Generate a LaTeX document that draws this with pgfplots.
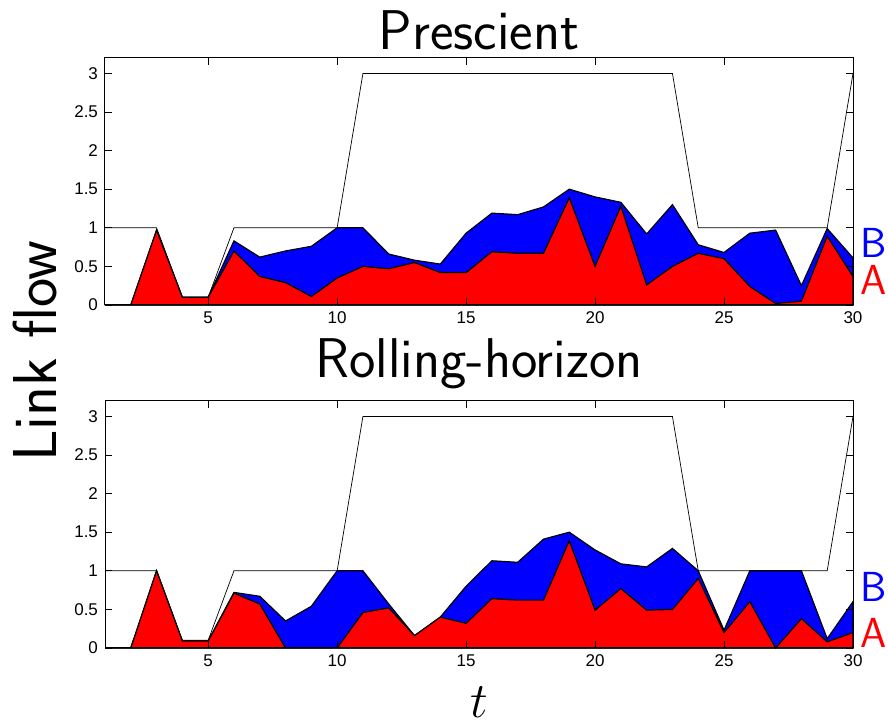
\documentclass[border=0pt]{standalone}
\usepackage{fontspec}
\setmainfont{Liberation Sans}
\usepackage{pgfplots}
\usepackage{pgfplotstable}
\pgfplotsset{compat=1.18}

% t, flow on A, flow on B, capacity
\pgfplotstableread{
t A B C
1 0 0 1
2 0 0 1
3 0.97 0 1
4 0.10 0 0.1
5 0.10 0 0.1
6 0.70 0.13 1
7 0.37 0.25 1
8 0.29 0.41 1
9 0.11 0.65 1
10 0.35 0.65 1
11 0.50 0.50 3
12 0.47 0.19 3
13 0.55 0.03 3
14 0.42 0.11 3
15 0.42 0.51 3
16 0.69 0.50 3
17 0.67 0.50 3
18 0.67 0.60 3
19 1.39 0.11 3
20 0.50 0.90 3
21 1.28 0.05 3
22 0.26 0.66 3
23 0.50 0.80 3
24 0.67 0.11 1
25 0.60 0.08 1
26 0.24 0.69 1
27 0.02 0.95 1
28 0.05 0.20 1
29 0.89 0.10 1
30 0.37 0.24 3
}\prescient

\pgfplotstableread{
t A B C
1 0 0 1
2 0 0 1
3 1.00 0 1
4 0.09 0 0.1
5 0.09 0 0.1
6 0.71 0.01 1
7 0.57 0.10 1
8 0 0.35 1
9 0 0.54 1
10 0 1.00 1
11 0.46 0.54 3
12 0.52 0.05 3
13 0.16 0 3
14 0.40 0 3
15 0.32 0.48 3
16 0.64 0.49 3
17 0.62 0.49 3
18 0.62 0.79 3
19 1.39 0.11 3
20 0.49 0.78 3
21 0.77 0.32 3
22 0.49 0.56 3
23 0.50 0.79 3
24 0.90 0.10 1
25 0.20 0.03 1
26 0.60 0.40 1
27 0 1.00 1
28 0.38 0.62 1
29 0.08 0.04 1
30 0.20 0.40 3
}\rolling

\pgfplotsset{
  flowaxis/.style={
    scale only axis, width=374pt, height=123.5pt,
    xmin=1, xmax=30, ymin=0, ymax=3.2,
    xtick={5,10,...,30}, ytick={0,0.5,...,3},
    tick align=inside, major tick length=3.5pt,
    axis line style={line width=0.5pt},
    tick style={black, line width=0.4pt},
    ticklabel style={font=\fontsize{8.5}{9}\selectfont},
    /pgf/number format/assume math mode=true,
    clip=false, axis on top,
    title style={font=\sffamily\fontsize{28}{32}\selectfont, at={(0.5,1)}, anchor=base},
  },
  flowB/.style={fill=blue, draw=black, line width=0.6pt},
  flowA/.style={fill=red, draw=black, line width=0.6pt},
  cap/.style={black, line width=0.35pt},
}
\tikzset{endlabel/.style={anchor=base west, inner sep=0, xshift=3.5pt, font=\sffamily\fontsize{21}{21}\selectfont}}

\begin{document}
\begin{tikzpicture}
\useasboundingbox (-52.5pt,-334pt) rectangle (391.5pt,29pt);

\begin{axis}[flowaxis, at={(0,0)}, anchor=north west,
  title={Prescient}, title style={yshift=-2pt}]
\addplot[flowB] table[x=t, y expr=\thisrow{A}+\thisrow{B}] {\prescient} \closedcycle;
\addplot[flowA] table[x=t, y=A] {\prescient} \closedcycle;
\addplot[cap] table[x=t, y=C] {\prescient};
\node[endlabel, text=blue] at (axis cs:30,0.62) {B};
\node[endlabel, text=red] at (axis cs:30,0.13) {A};
\end{axis}

\begin{axis}[flowaxis, at={(0,-171.5pt)}, anchor=north west,
  title={Rolling-horizon}, title style={yshift=5.5pt}]
\addplot[flowB] table[x=t, y expr=\thisrow{A}+\thisrow{B}] {\rolling} \closedcycle;
\addplot[flowA] table[x=t, y=A] {\rolling} \closedcycle;
\addplot[cap] table[x=t, y=C] {\rolling};
\node[endlabel, text=blue] at (axis cs:30,0.60) {B};
\node[endlabel, text=red] at (axis cs:30,0.0) {A};
\node[rotate=90, font=\sffamily\fontsize{31}{31}\selectfont] at (rel axis cs:-0.0936,1.202) {Link flow};
\node[font=\fontsize{32}{32}\selectfont] at (rel axis cs:0.5,-0.17) [yshift=-6pt] {$t$};
\end{axis}
\end{tikzpicture}
\end{document}
